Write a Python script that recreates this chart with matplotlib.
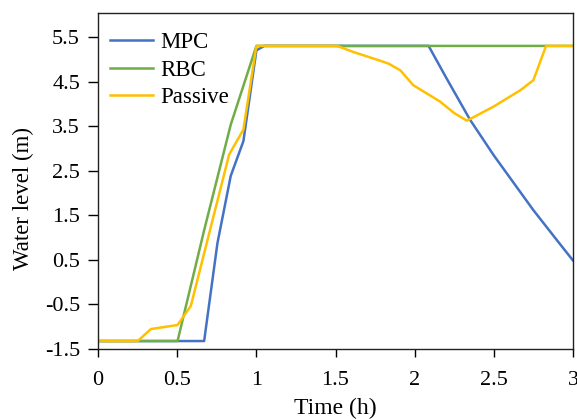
import matplotlib.pyplot as plt

# Dados (tempo em h, nível em m)
mpc_t = [0, 0.67, 0.754, 0.838, 0.918, 1.0, 1.05, 2.088, 2.2, 2.35, 2.5, 2.75, 2.9, 3.0]
mpc_y = [-1.33, -1.33, 0.87, 2.38, 3.16, 5.2, 5.3, 5.3, 4.58, 3.64, 2.84, 1.61, 0.93, 0.48]

rbc_t = [0, 0.502, 0.67, 0.838, 1.0, 3.0]
rbc_y = [-1.33, -1.33, 1.16, 3.53, 5.3, 5.3]

passive_t = [0, 0.25, 0.334, 0.502, 0.586, 0.828, 0.918, 1.0, 1.51, 1.615, 1.78, 1.836,
             1.91, 1.99, 2.16, 2.25, 2.33, 2.5, 2.67, 2.75, 2.83, 3.0]
passive_y = [-1.33, -1.33, -1.06, -0.97, -0.54, 2.86, 3.42, 5.3, 5.3, 5.16, 4.97, 4.9,
             4.75, 4.42, 4.05, 3.79, 3.62, 3.94, 4.31, 4.53, 5.3, 5.3]

x_ticks = [0, 0.5, 1, 1.5, 2, 2.5, 3]
x_labels = ["0", "0.5", "1", "1.5", "2", "2.5", "3"]
y_ticks = [-1.5, -0.5, 0.5, 1.5, 2.5, 3.5, 4.5, 5.5]
y_labels = ["-1.5", "-0.5", "0.5", "1.5", "2.5", "3.5", "4.5", "5.5"]

plt.rcParams["font.family"] = ["Liberation Serif", "DejaVu Serif"]

fig = plt.figure(figsize=(5.77, 4.19), dpi=100)
ax = fig.add_axes([0.170, 0.168, 0.823, 0.800])

ax.plot(mpc_t, mpc_y, color="#4472C4", lw=1.8, label="MPC")
ax.plot(rbc_t, rbc_y, color="#70AD47", lw=1.8, label="RBC")
ax.plot(passive_t, passive_y, color="#FFC000", lw=1.8, label="Passive")

ax.set_xlim(0, 3)
ax.set_ylim(-1.5, 6.03)
ax.set_xticks(x_ticks)
ax.set_xticklabels(x_labels)
ax.set_yticks(y_ticks)
ax.set_yticklabels(y_labels)
ax.tick_params(axis="x", direction="out", length=6, width=1, labelsize=16, pad=10)
ax.tick_params(axis="y", direction="out", length=7, width=1, labelsize=16, pad=6)

for s in ax.spines.values():
    s.set_linewidth(1.0)
    s.set_color("#222222")

ax.set_xlabel("Time (h)", fontsize=17, labelpad=6)
ax.set_ylabel("Water level (m)", fontsize=16.5)
ax.yaxis.set_label_coords(-0.135, 0.449)

ax.legend(loc="upper left", frameon=False, fontsize=16.5, handlelength=1.86,
          handletextpad=0.35, labelspacing=0.28, borderaxespad=0.12,
          bbox_to_anchor=(0.0, 0.979))

plt.savefig("out.png", dpi=100)
plt.close()
